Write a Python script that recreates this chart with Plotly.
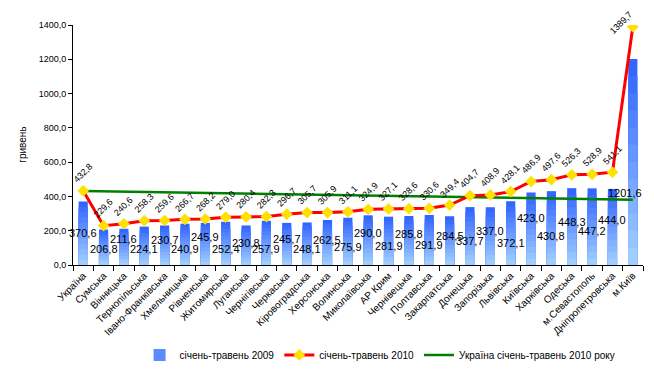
import plotly.graph_objects as go

categories = ["Україна", "Сумська", "Вінницька", "Тернопільська", "Івано-Франківська",
              "Хмельницька", "Рівненська", "Житомирська", "Луганська", "Чернігівська",
              "Черкаська", "Кіровоградська", "Херсонська", "Волинська", "Миколаївська",
              "АР Крим", "Чернівецька", "Полтавська", "Закарпатська", "Донецька",
              "Запорізька", "Львівська", "Київська", "Харківська", "Одеська",
              "м.Севастополь", "Дніпропетровська", "м.Київ"]
wage_2009 = [370.6, 206.8, 211.6, 224.1, 230.7, 240.9, 245.9, 252.4, 230.8, 257.9,
             245.7, 248.1, 262.5, 275.9, 290.0, 281.9, 285.8, 291.9, 284.5, 337.7,
             337.0, 372.1, 423.0, 430.8, 448.3, 447.2, 444.0, 1201.6]
wage_2010 = [432.8, 229.6, 240.6, 258.3, 259.6, 266.7, 268.2, 279.0, 280.4, 282.3,
             296.7, 305.7, 305.9, 311.1, 324.9, 327.1, 328.6, 330.6, 349.4, 404.7,
             408.9, 428.1, 486.9, 497.6, 526.3, 528.9, 541.1, 1389.7]
ukraine_2010 = [432, 430, 428, 426, 424, 422, 420, 418, 416, 414,
                412, 410, 408, 406, 404, 402, 400, 398, 396, 394,
                392, 390, 388, 386, 385, 384, 382, 381]
y_ticks = [0, 200, 400, 600, 800, 1000, 1200, 1400]

series_names = ["січень-травень 2009", "січень-травень 2010", "Україна січень-травень 2010 року"]

# label pixel offsets (styling only)
bar_label_shift = [32, 16, 26, 16, 25, 16, 28, 16, 22, 16, 26, 16, 25, 18, 32, 19, 31, 20,
                   29, 24, 34, 22, 47, 29, 43, 34, 45, 72]

FONT = "Arial"


def fmt(v):
    return f"{v:.1f}".replace(".", ",")


fig = go.Figure()

n_layers = 12
dark = (51, 102, 255)
light = (160, 205, 255)
for k in range(n_layers):
    t = k / (n_layers - 1)
    col = "rgb({},{},{})".format(*[round(dark[i] + (light[i] - dark[i]) * t) for i in range(3)])
    frac = (n_layers - k) / n_layers
    fig.add_trace(go.Bar(
        x=categories, y=[v * frac for v in wage_2009],
        marker=dict(color=col, line=dict(width=0)), width=0.45,
        name=series_names[0], showlegend=(k == 4), legendrank=1,
        hoverinfo="skip" if k else "x+y",
    ))

fig.add_trace(go.Scatter(
    x=categories, y=ukraine_2010, mode="lines",
    line=dict(color="#008000", width=2.5), name=series_names[2], legendrank=3,
))
fig.add_trace(go.Scatter(
    x=categories, y=wage_2010, mode="lines+markers",
    line=dict(color="#FF0000", width=3),
    marker=dict(symbol="diamond", size=9, color="#FFE000", line=dict(width=0)),
    name=series_names[1], legendrank=2,
))

annotations = []
n = len(categories)
for i, (c, v) in enumerate(zip(categories, wage_2009)):
    last = i == n - 1
    annotations.append(dict(
        x=c, y=0, xref="x", yref="y", text=fmt(v), showarrow=False,
        yanchor="middle", xanchor="right" if last else "center",
        yshift=bar_label_shift[i], xshift=11 if last else 0,
        font=dict(family=FONT, size=11, color="black"),
    ))
for i, (c, v) in enumerate(zip(categories, wage_2010)):
    last = i == n - 1
    annotations.append(dict(
        x=c, y=v, xref="x", yref="y", text=fmt(v), showarrow=False,
        textangle=-45,
        yanchor="bottom", xanchor="right" if last else "center",
        yshift=-12 if last else 3, xshift=4 if last else 0,
        font=dict(family=FONT, size=9, color="black"),
    ))
annotations.append(dict(
    x=-0.09, y=0.5, xref="paper", yref="paper", text="гривень", textangle=-90,
    showarrow=False, xanchor="center", yanchor="middle",
    font=dict(family=FONT, size=10, color="black"),
))

# page body has an 8px margin, so the figure is a little smaller than the window
fig.update_layout(
    width=646, height=364,
    margin=dict(l=65, r=11, t=17, b=107, autoexpand=False),
    paper_bgcolor="white", plot_bgcolor="white",
    barmode="overlay", bargap=0.55,
    separators=", ",
    font=dict(family=FONT, size=10, color="black"),
    showlegend=True,
    legend=dict(orientation="h", x=0.576, y=0.047, xref="container", yref="container",
                xanchor="center", yanchor="middle",
                font=dict(family=FONT, size=10, color="black"),
                traceorder="normal", itemwidth=30, bgcolor="rgba(0,0,0,0)"),
    annotations=annotations,
)
fig.update_xaxes(
    type="category", range=[-0.5, n - 0.5], automargin=False,
    showline=True, linecolor="black", linewidth=1,
    ticks="outside", tickson="boundaries", ticklen=5, tickcolor="black",
    tickangle=-45, showgrid=False, zeroline=False,
    tickfont=dict(family=FONT, size=10, color="black"),
)
fig.update_yaxes(
    range=[0, 1400], tickvals=y_ticks, tickformat=".1f", automargin=False,
    showline=True, linecolor="black", linewidth=1,
    ticks="outside", ticklen=4, tickcolor="black",
    showgrid=False, zeroline=False,
    tickfont=dict(family=FONT, size=9, color="black"),
)

fig.write_html("out.html")
